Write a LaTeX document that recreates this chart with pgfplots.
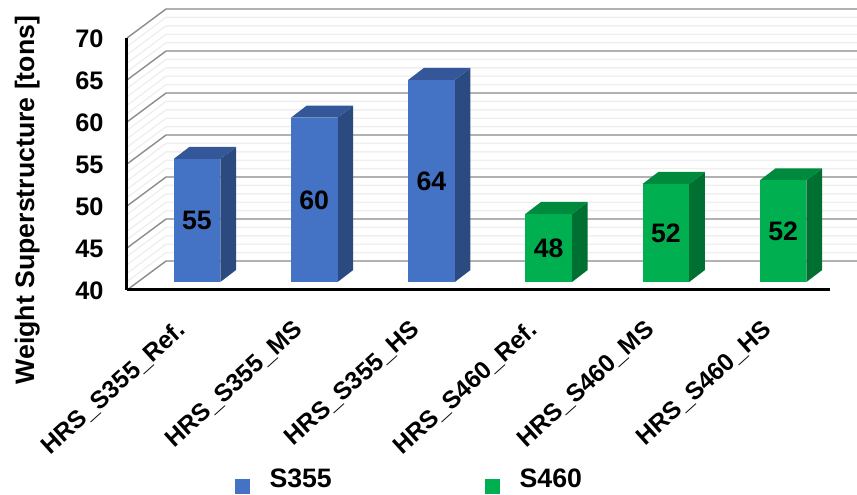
\documentclass[border=0pt]{standalone}
\usepackage{pgfplots}
\pgfplotsset{compat=1.18}
\usepackage{fontspec}
\setmainfont{Liberation Sans}

\definecolor{sBlue}{HTML}{4472C4}
\definecolor{sBlueTop}{HTML}{335799}
\definecolor{sBlueSide}{HTML}{2B4A80}
\definecolor{sGreen}{HTML}{00B050}
\definecolor{sGreenTop}{HTML}{008A3E}
\definecolor{sGreenSide}{HTML}{006F32}
\definecolor{gridMajor}{HTML}{8E8E8E}
\definecolor{gridMinor}{HTML}{EFEFEF}

% 1 px of the reference
\newlength\px
\setlength\px{0.75pt}
\newcommand\chartfont{\fontsize{20}{22}\selectfont\bfseries}
\newcommand\tickfont{\fontsize{19}{21}\selectfont\bfseries}

% depth of the walls and of the bars, in axis units
\def\wallx{0.333}
\def\wally{3.45}
\def\barx{0.134}
\def\bary{1.43}
\def\barbase{0.95}
\def\barhw{0.199}

% #1 position, #2 value, #3 printed label, #4 colour prefix
\newcommand\threedbar[4]{%
  \pgfmathsetmacro\xl{#1-\barhw}%
  \pgfmathsetmacro\xr{#1+\barhw}%
  \pgfmathsetmacro\xlb{\xl+\barx}%
  \pgfmathsetmacro\xrb{\xr+\barx}%
  \pgfmathsetmacro\yb{40+\barbase}%
  \pgfmathsetmacro\yt{#2+\barbase}%
  \pgfmathsetmacro\ybb{\yb+\bary}%
  \pgfmathsetmacro\ytb{\yt+\bary}%
  \pgfmathsetmacro\ymid{(\yb+\yt)/2}%
  \addplot[fill=#4Side, draw=none, forget plot] coordinates {(\xr,\yb) (\xrb,\ybb) (\xrb,\ytb) (\xr,\yt)} -- cycle;
  \addplot[fill=#4Top, draw=none, forget plot] coordinates {(\xl,\yt) (\xr,\yt) (\xrb,\ytb) (\xlb,\ytb)} -- cycle;
  \addplot[fill=#4, draw=none, forget plot] coordinates {(\xl,\yb) (\xr,\yb) (\xr,\yt) (\xl,\yt)} -- cycle;
  \addplot[draw=none, forget plot, point meta=explicit symbolic, nodes near coords,
    nodes near coords style={anchor=center, font=\chartfont, text=black}] coordinates {(#1,\ymid) [#3]};
}

% #1 level, #2 colour
\newcommand\wallline[2]{%
  \pgfmathsetmacro\yback{#1+\wally}%
  \pgfmathsetmacro\xback{-0.597+\wallx}%
  \addplot[color=#2, line width=1.4\px, forget plot] coordinates {(-0.597,#1) (\xback,\yback) (5.63,\yback)};
}

\begin{document}
\begin{tikzpicture}
\path[use as bounding box] (-127\px,-205\px) rectangle (730\px,290\px);
\begin{axis}[
    scale only axis,
    width=703\px,
    height=252\px,
    xmin=-0.597, xmax=5.40,
    ymin=40, ymax=70,
    clip=false,
    axis on top,
    axis lines=left,
    axis line style={-, line width=3\px, black},
    tick style={draw=none},
    xtick={0,1,2,3,4,5},
    xticklabels={HRS\_S355\_Ref.,HRS\_S355\_MS,HRS\_S355\_HS,HRS\_S460\_Ref.,HRS\_S460\_MS,HRS\_S460\_HS},
    ytick={40,45,50,55,60,65,70},
    /pgf/number format/assume math mode=true,
    ticklabel style={font=\tickfont},
    xticklabel style={rotate=42, anchor=north east, xshift=-29\px, yshift=0\px, font=\fontsize{18.5}{20}\selectfont\bfseries},
    yticklabel style={xshift=-16\px, yshift=-1\px},
    ylabel={Weight Superstructure [tons]},
    ylabel style={at={(axis description cs:-0.142,0.357)}, anchor=center, font=\chartfont},
    legend style={at={(axis description cs:0.4025,-0.755)}, anchor=center, draw=none, fill=none,
      legend columns=2, font=\chartfont,
      /tikz/every odd column/.style={column sep=17\px},
      /tikz/every even column/.style={column sep=151\px}},
]
\pgfplotsinvokeforeach{40,41,...,70}{\wallline{#1}{gridMinor}}
\pgfplotsinvokeforeach{40,45,...,70}{\wallline{#1}{gridMajor}}

\threedbar{0}{54.65}{55}{sBlue}
\threedbar{1}{59.56}{60}{sBlue}
\threedbar{2}{64.05}{64}{sBlue}
\threedbar{3}{48.10}{48}{sGreen}
\threedbar{4}{51.67}{52}{sGreen}
\threedbar{5}{52.10}{52}{sGreen}

\addlegendimage{legend image code/.code={\fill[sBlue] (0\px,-14\px) rectangle (14\px,0\px);}}
\addlegendentry{S355}
\addlegendimage{legend image code/.code={\fill[sGreen] (0\px,-14\px) rectangle (14\px,0\px);}}
\addlegendentry{S460}
\end{axis}
\end{tikzpicture}
\end{document}
